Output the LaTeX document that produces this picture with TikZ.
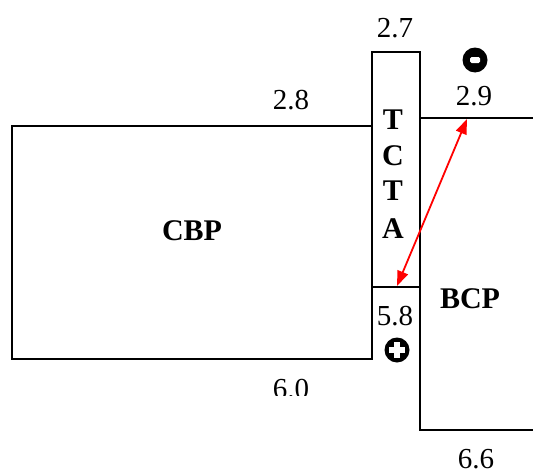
\documentclass[tikz,border=0pt]{standalone}
\usepackage{fontspec}
\setmainfont{Liberation Serif}
\usetikzlibrary{arrows.meta}
\begin{document}
\begin{tikzpicture}[x=1pt,y=-1pt,
  box/.style={line width=2pt},
  num/.style={font=\fontsize{29}{30}\selectfont, anchor=base, inner sep=0pt},
  lab/.style={font=\fontsize{30}{31}\selectfont\bfseries, anchor=base, inner sep=0pt},
  redarrow/.style={red, line width=1.8pt, {Triangle[length=15pt,width=11pt]}-{Triangle[length=15pt,width=11pt]}}]
\useasboundingbox (0,0) rectangle (533,471);
% CBP box
\draw[box] (12,126) rectangle (372,359);
% TCTA box
\draw[box] (372,287) -- (372,52) -- (420,52) -- (420,287) -- cycle;
% BCP box
\draw[box] (533,118) -- (420,118) -- (420,430) -- (533,430);
% labels
\node[lab] (cbp) at (192,240) {CBP};
\node[lab] (bcp) at (470,308) {BCP};
\node[lab] (t1) at (393,129) {T};
\node[lab] (c1) at (393,165) {C};
\node[lab] (t2) at (393,200) {T};
\node[lab] (a1) at (393,238) {A};
\node[num] (n27) at (395,37) {2.7};
\node[num] (n28) at (291,109) {2.8};
\node[num] (n29) at (474,105) {2.9};
\node[num] (n58) at (395,325) {5.8};
\begin{scope}
\clip (250,360) rectangle (340,395);
\node[num] (n60) at (291,398) {6.0};
\end{scope}
\node[num] (n66) at (476,468) {6.6};
% minus symbol
\fill[black] (475,60) circle (12.5);
\fill[white, rounded corners=1.5pt] (470,57) rectangle (480,63);
% plus symbol
\fill[black] (397,350) circle (12.5);
\fill[white] (394,342) rectangle (400,358);
\fill[white] (389,347) rectangle (405,353);
% arrow
\coordinate (p1) at (467,119);
\coordinate (p2) at (397,286);
\draw[redarrow] (p1) -- (p2);
\end{tikzpicture}
\end{document}
